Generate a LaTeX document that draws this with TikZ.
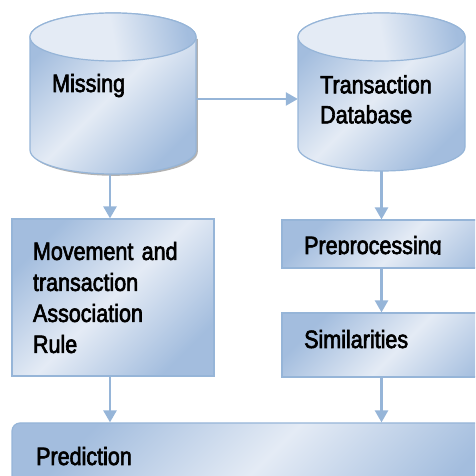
\documentclass[tikz,border=0pt]{standalone}
\usepackage{fontspec}
\setmainfont{Liberation Sans}[FakeStretch=0.86,FakeBold=2.5]
\usetikzlibrary{arrows.meta}
\definecolor{bord}{RGB}{150,181,216}
\definecolor{dk}{RGB}{163,189,222}
\definecolor{lt}{RGB}{228,235,245}
\begin{document}
\begin{tikzpicture}[x=1pt,y=1pt,
  font=\fontsize{25}{31}\selectfont,
  fillsh/.style={left color=dk, right color=dk, middle color=lt, shading angle=45},
  box/.style={draw=bord, line width=1.2pt, fillsh, inner sep=0pt},
  arr/.style={draw=bord, line width=2.5pt, -{Triangle[width=13pt,length=12pt]}},
  lbl/.style={anchor=base west, inner sep=0pt},
  area/.style={inner sep=0pt}
]
\useasboundingbox (0,0) rectangle (475,476);
\clip (0,0) rectangle (475,476);
% left cylinder (Missing)
\begin{scope}[shift={(1.8,-1.8)}]
\fill[gray!60] (30,439) -- (30,326) arc[start angle=180,end angle=360,x radius=83,y radius=24] -- (196,439) -- cycle;
\end{scope}
\path[fillsh, draw=bord, line width=1.2pt] (30,439) -- (30,326) arc[start angle=180,end angle=360,x radius=83,y radius=24] -- (196,439) arc[start angle=0,end angle=180,x radius=83,y radius=24] -- cycle;
\path[draw=bord, line width=1.2pt, left color=lt, right color=dk, middle color=lt, shading angle=100] (113,439) ellipse [x radius=83, y radius=24];
\node[area, minimum width=166pt, minimum height=162pt] (miss) at (113,382) {};
% right cylinder (Transaction Database)
\path[fillsh, draw=bord, line width=1.2pt] (298,439) -- (298,329) arc[start angle=180,end angle=360,x radius=83.5,y radius=24] -- (465,439) arc[start angle=0,end angle=180,x radius=83.5,y radius=24] -- cycle;
\path[draw=bord, line width=1.2pt, left color=lt, right color=dk, middle color=lt, shading angle=100] (381.5,439) ellipse [x radius=83.5, y radius=24];
\node[area, minimum width=167pt, minimum height=158pt] (tdb) at (381.5,384) {};
% boxes
\node[box, minimum width=202pt, minimum height=157pt, text width=160pt, align=left] (mov) at (113,178.5) {Movement and\\transaction\\Association\\Rule};
\node[box, minimum width=240pt, minimum height=48pt] (pre) at (402,232) {};
\node[box, minimum width=240pt, minimum height=64pt] (sim) at (402,131) {};
\node[box, rounded corners=8pt, minimum width=500pt, minimum height=80pt] (pred) at (262,13) {};
% texts
\node[lbl] (tm) at (52,384) {Missing};
\node[anchor=north west, inner sep=0pt, align=left, font=\fontsize{25}{30}\selectfont] (tt) at (320,401) {Transaction\\Database};
\begin{scope}
\clip (282,221.5) rectangle (475,256);
\node[lbl] (tp) at (304,222) {Preprocessing};
\end{scope}
\node[lbl] (ts) at (304,128) {Similarities};
\node[lbl] (tpr) at (36,11) {Prediction};
% arrows
\draw[arr] ([yshift=-5pt]miss.east) -- ([yshift=-5pt]miss.east -| tdb.west);
\draw[arr] ([xshift=-3pt]miss.south) -- ([xshift=-3pt]mov.north);
\draw[arr] (tdb.south) -- (tdb.south |- pre.north);
\draw[arr] (tdb.south |- pre.south) -- (tdb.south |- sim.north);
\draw[arr] (tdb.south |- sim.south) -- (tdb.south |- pred.north);
\draw[arr] ([xshift=-3pt]mov.south) -- ([xshift=-3pt]mov.south |- pred.north);
\end{tikzpicture}
\end{document}
